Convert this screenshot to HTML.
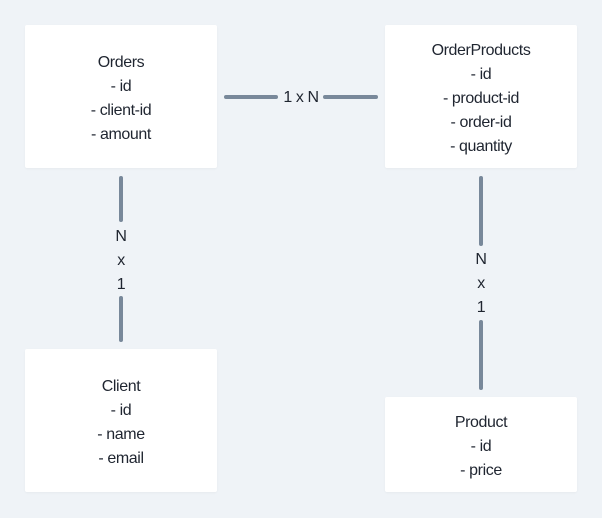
<!DOCTYPE html>
<html><head><style>
body{margin:0;width:602px;height:518px;background:#eff3f7;position:relative;overflow:hidden;font-family:"Liberation Sans",sans-serif;color:#1f2530;font-size:16px;letter-spacing:-0.4px}
.b{position:absolute;background:#fff;border-radius:2px;box-shadow:0 1px 2px rgba(0,0,0,.04)}
.t{position:absolute;text-align:center;line-height:24px;width:200px;margin-left:-100px}
.l{position:absolute;background:#78889a;border-radius:2px}
</style></head><body>
<div class="b" style="left:25px;top:25px;width:192px;height:143px"></div>
<div class="b" style="left:385px;top:25px;width:192px;height:143px"></div>
<div class="b" style="left:25px;top:349px;width:192px;height:143px"></div>
<div class="b" style="left:385px;top:397px;width:192px;height:95px"></div>
<div class="t" style="left:121px;top:51px">Orders<br>- id<br>- client-id<br>- amount</div>
<div class="t" style="left:481px;top:39px">OrderProducts<br>- id<br>- product-id<br>- order-id<br>- quantity</div>
<div class="t" style="left:121px;top:375px">Client<br>- id<br>- name<br>- email</div>
<div class="t" style="left:481px;top:411px">Product<br>- id<br>- price</div>
<div class="l" style="left:224px;top:95px;width:54px;height:4px"></div>
<div class="l" style="left:323px;top:95px;width:55px;height:4px"></div>
<div class="t" style="left:301px;top:86px">1 x N</div>
<div class="l" style="left:119px;top:176px;width:4px;height:46px"></div>
<div class="t" style="left:121px;top:225px">N<br>x<br>1</div>
<div class="l" style="left:119px;top:296px;width:4px;height:46px"></div>
<div class="l" style="left:479px;top:176px;width:4px;height:70px"></div>
<div class="t" style="left:481px;top:248px">N<br>x<br>1</div>
<div class="l" style="left:479px;top:320px;width:4px;height:70px"></div>
</body></html>
